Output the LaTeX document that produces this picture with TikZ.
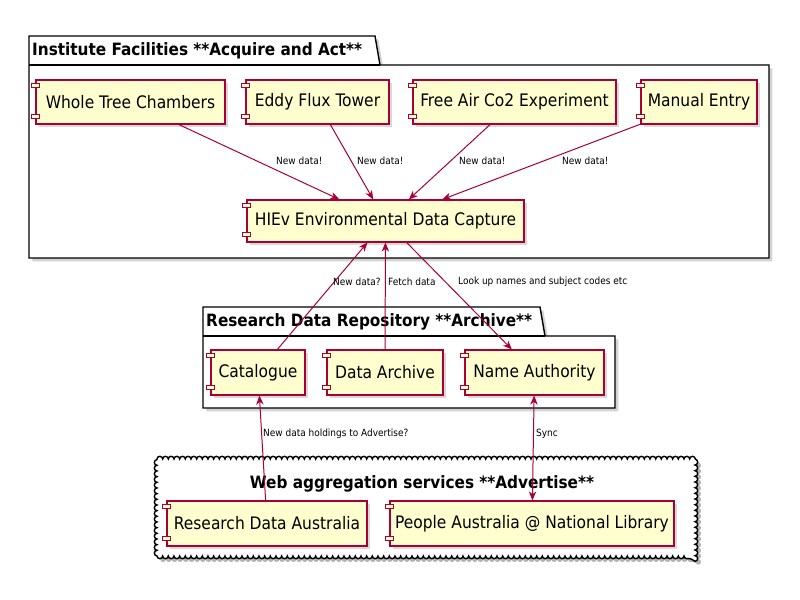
\documentclass[tikz,border=0pt]{standalone}
\usepackage{fontspec}
\setmainfont{DejaVu Sans Condensed}
\usetikzlibrary{arrows.meta,shadows,decorations.pathmorphing}
\definecolor{umlred}{HTML}{A80036}
\definecolor{umlfill}{HTML}{FEFECE}
\tikzset{
  comp/.style={draw=umlred, fill=umlfill, line width=0.9pt, minimum height=1.32cm,
    inner sep=0pt, font=\fontsize{14.7}{16}\selectfont,
    drop shadow={shadow xshift=0.1cm, shadow yshift=-0.1cm, opacity=0.3}},
  icon/.style={draw=umlred, fill=umlfill, line width=0.7pt},
  frame/.style={draw=black, fill=white, line width=1.2pt,
    drop shadow={shadow xshift=0.1cm, shadow yshift=-0.1cm, opacity=0.35}},
  title/.style={font=\bfseries\fontsize{14.5}{17}\selectfont, inner sep=0pt},
  lbl/.style={font=\fontsize{8.5}{10}\selectfont, inner sep=0pt, anchor=west},
  flow/.style={draw=umlred, line width=0.85pt, ->},
  bumpy/.style={decorate, decoration={bumps, segment length=0.34cm, amplitude=0.08cm}},
}
\begin{document}
\begin{tikzpicture}[x=0.03cm, y=-0.03cm, >={Stealth[length=0.27cm, width=0.22cm, inset=0.08cm]}]
    \useasboundingbox (0,0) rectangle (800,600);
    % packages
    \path[frame] (29,36) -- (375,36) -- (380,65) -- (769,65) -- (769,258) -- (29,258) -- cycle;
    \draw[line width=1.2pt] (29,65) -- (380,65);
    \node[title, anchor=west] (facilities) at (32,51) {Institute Facilities **Acquire and Act**};
    \path[frame] (203,307) -- (540,307) -- (545,336) -- (615,336) -- (615,408) -- (203,408) -- cycle;
    \draw[line width=1.2pt] (203,336) -- (545,336);
    \node[title, anchor=west] (repository) at (206,322) {Research Data Repository **Archive**};
    % cloud
    \path[fill=black, opacity=0.3, bumpy]
        ([shift={(0.1cm,-0.1cm)}]157,459) -- ([shift={(0.1cm,-0.1cm)}]695,459)
        -- ([shift={(0.1cm,-0.1cm)}]695,556) -- ([shift={(0.1cm,-0.1cm)}]157,556) -- cycle;
    \path[draw=black, fill=white, line width=1.2pt, bumpy]
        (157,459) -- (695,459) -- (695,556) -- (157,556) -- cycle;
    \node[title] (web) at (422,484) {Web aggregation services **Advertise**};
    % components
    \node[comp, minimum width=5.67cm] (wtc) at (130.5,102) {Whole Tree Chambers};
    \node[comp, minimum width=4.29cm] (eft) at (317.5,102) {Eddy Flux Tower};
    \node[comp, minimum width=6.09cm] (face) at (514.5,102) {Free Air Co2 Experiment};
    \node[comp, minimum width=3.48cm] (me) at (699,102) {Manual Entry};
    \node[comp, minimum width=8.31cm, minimum height=1.26cm] (hiev) at (385.5,221) {HIEv Environmental Data Capture};
    \node[comp, minimum width=2.82cm, minimum height=1.35cm] (cat) at (258,372.5) {Catalogue};
    \node[comp, minimum width=3.48cm, minimum height=1.35cm] (arch) at (385,372.5) {Data Archive};
    \node[comp, minimum width=4.17cm, minimum height=1.35cm] (na) at (534.5,372.5) {Name Authority};
    \node[comp, minimum width=6.00cm, minimum height=1.35cm] (rda) at (267,523.5) {Research Data Australia};
    \node[comp, minimum width=8.52cm, minimum height=1.35cm] (pa) at (532,523.5) {People Australia @ National Library};
    % component icons
    \foreach \c in {wtc,eft,face,me,hiev,cat,arch,na,rda,pa} {
        \path[icon] ([yshift=-0.18cm]\c.north west) ++(-0.12cm,-0.07cm) rectangle ++(0.24cm,0.14cm);
        \path[icon] ([yshift=0.24cm]\c.south west) ++(-0.12cm,-0.07cm) rectangle ++(0.24cm,0.14cm);
    }
    % connectors
    \draw[flow] (wtc) -- (hiev);
    \draw[flow] (eft) -- (hiev);
    \draw[flow] (face) -- (hiev);
    \draw[flow] (me) -- (hiev);
    \draw[flow] (cat) -- (hiev);
    \draw[flow] (arch) -- (hiev);
    \draw[flow] (hiev) -- (na);
    \draw[flow] (rda) -- (cat);
    \draw[flow, <->] (na) -- (pa);
    % labels
    \node[lbl] (l1) at (276,161) {New data!};
    \node[lbl] (l2) at (357,161) {New data!};
    \node[lbl] (l3) at (459,161) {New data!};
    \node[lbl] (l4) at (562,161) {New data!};
    \node[lbl] (l5) at (333,282) {New data?};
    \node[lbl] (l6) at (388,282) {Fetch data};
    \node[lbl] (l7) at (458,282) {Look up names and subject codes etc};
    \node[lbl] (l8) at (263,434) {New data holdings to Advertise?};
    \node[lbl] (l9) at (536,434) {Sync};
\end{tikzpicture}
\end{document}
